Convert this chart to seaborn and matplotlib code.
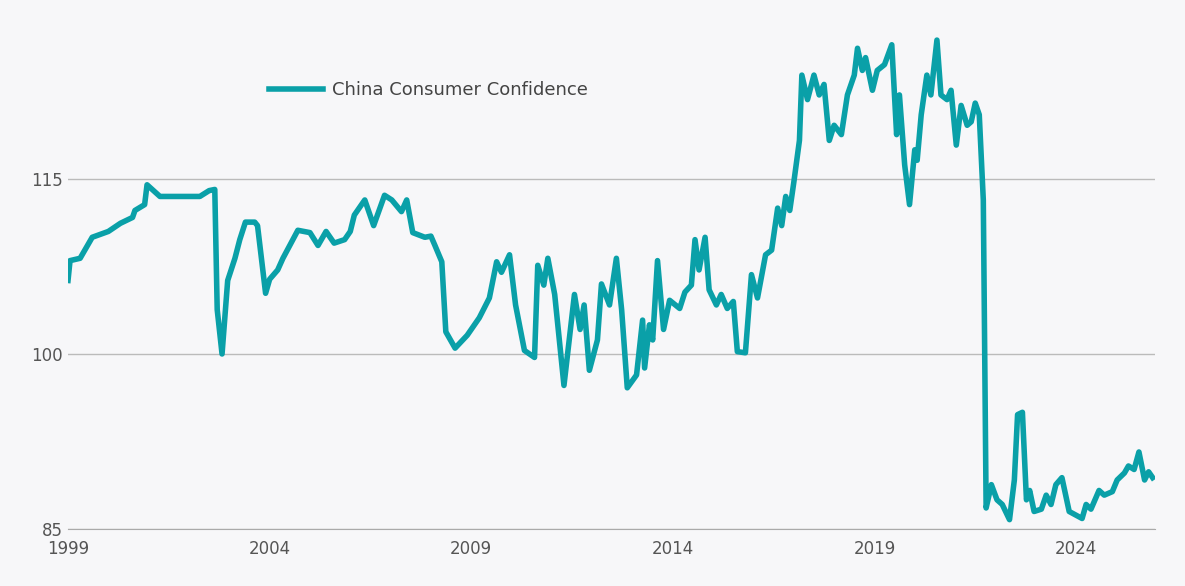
import pandas as pd
import seaborn as sns
import matplotlib.pyplot as plt

# decimal year and index value
years = [1999.0, 1999.05, 1999.3, 1999.6, 2000.0, 2000.3, 2000.6, 2000.66, 2000.9, 2000.96,
         2001.28, 2002.27, 2002.5, 2002.64, 2002.7, 2002.82, 2002.96, 2003.14, 2003.26, 2003.4,
         2003.63, 2003.7, 2003.9, 2004.0, 2004.2, 2004.33, 2004.7, 2005.0, 2005.2, 2005.4,
         2005.6, 2005.86, 2006.0, 2006.1, 2006.36, 2006.58, 2006.85, 2007.03, 2007.27, 2007.4,
         2007.55, 2007.85, 2008.0, 2008.1, 2008.27, 2008.37, 2008.6, 2008.9, 2009.2, 2009.45,
         2009.63, 2009.75, 2009.95, 2010.1, 2010.32, 2010.57, 2010.65, 2010.8, 2010.9, 2011.07,
         2011.3, 2011.56, 2011.7, 2011.8, 2011.93, 2012.13, 2012.23, 2012.43, 2012.6, 2012.73,
         2012.87, 2013.1, 2013.25, 2013.3, 2013.42, 2013.5, 2013.62, 2013.77, 2013.92, 2014.17,
         2014.3, 2014.46, 2014.55, 2014.65, 2014.8, 2014.9, 2015.08, 2015.2, 2015.35, 2015.5,
         2015.6, 2015.8, 2015.95, 2016.1, 2016.3, 2016.45, 2016.6, 2016.7, 2016.8, 2016.9,
         2017.0, 2017.14, 2017.2, 2017.34, 2017.5, 2017.63, 2017.75, 2017.88, 2018.0, 2018.18,
         2018.33, 2018.5, 2018.58, 2018.7, 2018.78, 2018.95, 2019.07, 2019.25, 2019.43, 2019.55,
         2019.62, 2019.75, 2019.87, 2020.0, 2020.06, 2020.16, 2020.3, 2020.4, 2020.55, 2020.65,
         2020.8, 2020.9, 2021.03, 2021.15, 2021.3, 2021.4, 2021.5, 2021.6, 2021.7, 2021.77,
         2021.9, 2022.04, 2022.17, 2022.35, 2022.47, 2022.55, 2022.67, 2022.77, 2022.85, 2022.96,
         2023.14, 2023.26, 2023.38, 2023.5, 2023.65, 2023.83, 2024.15, 2024.25, 2024.37, 2024.57,
         2024.7, 2024.9, 2025.02, 2025.2, 2025.3, 2025.44, 2025.56, 2025.7, 2025.8, 2025.9]
values = [106.3, 108.0, 108.2, 110.0, 110.5, 111.2, 111.7, 112.3, 112.8, 114.5,
          113.5, 113.5, 114.0, 114.1, 103.8, 100.0, 106.3, 108.2, 109.8, 111.3,
          111.3, 111.0, 105.2, 106.4, 107.2, 108.2, 110.6, 110.4, 109.3, 110.5,
          109.5, 109.8, 110.5, 111.9, 113.2, 111.0, 113.6, 113.2, 112.2, 113.2,
          110.4, 110.0, 110.1, 109.3, 107.9, 101.9, 100.5, 101.6, 103.1, 104.8,
          107.9, 107.0, 108.5, 104.2, 100.3, 99.7, 107.6, 105.9, 108.2, 105.1,
          97.3, 105.1, 102.1, 104.2, 98.6, 101.2, 106.0, 104.2, 108.2, 103.8,
          97.1, 98.2, 102.9, 98.8, 102.5, 101.2, 108.0, 102.1, 104.6, 103.9,
          105.3, 105.9, 109.8, 107.2, 110.0, 105.5, 104.2, 105.1, 103.9, 104.5,
          100.2, 100.1, 106.8, 104.8, 108.5, 108.9, 112.5, 111.0, 113.5, 112.3,
          114.7, 118.3, 123.9, 121.8, 123.9, 122.2, 123.1, 118.3, 119.6, 118.8,
          122.2, 123.9, 126.2, 124.3, 125.4, 122.6, 124.3, 124.8, 126.5, 118.8,
          122.2, 116.2, 112.8, 117.5, 116.6, 120.5, 123.9, 122.2, 126.9, 122.2,
          121.8, 122.6, 117.9, 121.3, 119.6, 119.9, 121.5, 120.5, 113.2, 86.8,
          88.8, 87.5, 87.1, 85.8, 89.2, 94.8, 95.0, 87.5, 88.3, 86.5,
          86.7, 87.9, 87.1, 88.8, 89.4, 86.5, 85.9, 87.1, 86.7, 88.3,
          87.9, 88.2, 89.2, 89.8, 90.4, 90.1, 91.6, 89.2, 89.9, 89.4]
x_ticks = [1999, 2004, 2009, 2014, 2019, 2024]
y_ticks = [85, 100, 115]

df = pd.DataFrame({"year": years, "value": values})

bg = "#F7F7F9"
fig = plt.figure(figsize=(11.85, 5.86), dpi=100, facecolor=bg)
ax = fig.add_axes([0.0574, 0.0973, 0.917, 0.896], facecolor=bg)

sns.lineplot(data=df, x="year", y="value", ax=ax, color="#0AA0A8", linewidth=4,
             label="China Consumer Confidence")

ax.set_xlim(1999, 2025.95)
ax.set_ylim(85, 130)
ax.set_xticks(x_ticks)
ax.set_yticks(y_ticks)
ax.tick_params(length=0, labelsize=12, colors="#555555")
ax.tick_params(axis="x", pad=8)
ax.grid(axis="y", color="#BBBBBB", linewidth=1)
ax.set_axisbelow(True)
ax.set_xlabel("")
ax.set_ylabel("")
for s in ["top", "right", "left"]:
    ax.spines[s].set_visible(False)
ax.spines["bottom"].set_color("#AAAAAA")

ax.legend(loc="center left", bbox_to_anchor=(0.17, 0.836), frameon=False,
          fontsize=13, labelcolor="#444444", handlelength=3, handletextpad=0.5)

fig.savefig("out.png", dpi=100, facecolor=bg)
